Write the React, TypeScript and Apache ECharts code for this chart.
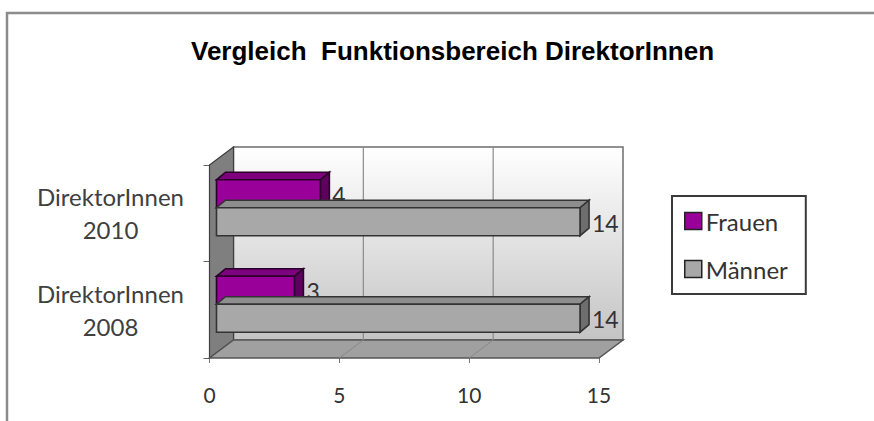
import React, { useEffect, useRef } from "react";
import * as echarts from "echarts";

const titleText = "Vergleich  Funktionsbereich DirektorInnen";
const categories = ["DirektorInnen\n2008", "DirektorInnen\n2010"];
const seriesNames = ["Frauen", "Männer"];
const frauen = [3, 4];
const maenner = [14, 14];
const xTicks = [0, 5, 10, 15];

const FONT = "Lato";
const DEPTH = [24, -18];
const BAR_OFF = [7, -5.5];
const BAR_DEPTH = [9, -7.5];

const palettes = [
  { front: "#990099", top: "#7d007d", side: "#5e005e", stroke: "#2a002a" },
  { front: "#a8a8a8", top: "#8e8e8e", side: "#6e6e6e", stroke: "#333333" },
];

function barRender(sIdx: number) {
  return (params: any, api: any) => {
    const val = api.value(0);
    const cat = api.value(1);
    const c0 = api.coord([0, cat]);
    const c1 = api.coord([val, cat]);
    const bandH = api.size([0, 1])[1];
    const h = bandH * 0.29;
    const yTop = c0[1] - h + sIdx * h + BAR_OFF[1];
    const xs = c0[0] + BAR_OFF[0];
    const xe = c1[0] + BAR_OFF[0];
    const [dx, dy] = BAR_DEPTH;
    const p = palettes[sIdx];
    const lw = 1.6;
    return {
      type: "group",
      children: [
        {
          type: "polygon",
          shape: { points: [[xs, yTop], [xe, yTop], [xe + dx, yTop + dy], [xs + dx, yTop + dy]] },
          style: { fill: p.top, stroke: p.stroke, lineWidth: lw },
        },
        {
          type: "polygon",
          shape: { points: [[xe, yTop], [xe, yTop + h], [xe + dx, yTop + h + dy], [xe + dx, yTop + dy]] },
          style: { fill: p.side, stroke: p.stroke, lineWidth: lw },
        },
        {
          type: "rect",
          shape: { x: xs, y: yTop, width: xe - xs, height: h },
          style: { fill: p.front, stroke: p.stroke, lineWidth: lw },
        },
        {
          type: "text",
          style: {
            text: String(val),
            x: xe + dx + 3,
            y: yTop + h / 2 + 1,
            verticalAlign: "middle",
            align: "left",
            fill: "#333333",
            font: `23px ${FONT}`,
          },
        },
      ],
    };
  };
}

function wallRender(params: any, api: any) {
  const bandH = api.size([0, 1])[1];
  const b = api.coord([0, 0]);
  const t = api.coord([0, categories.length - 1]);
  const bottom = b[1] + bandH / 2;
  const top = t[1] - bandH / 2;
  const x0 = b[0];
  const x15 = api.coord([xTicks[xTicks.length - 1], 0])[0];
  const [Dx, Dy] = DEPTH;
  const children: any[] = [
    {
      type: "rect",
      shape: { x: x0 + Dx, y: top + Dy, width: x15 - x0, height: bottom - top },
      style: {
        fill: new echarts.graphic.LinearGradient(0, 0, 0, 1, [
          { offset: 0, color: "#ffffff" },
          { offset: 1, color: "#c4c4c4" },
        ]),
        stroke: "#6e6e6e",
        lineWidth: 1.5,
      },
    },
    {
      type: "polygon",
      shape: { points: [[x0, top], [x0 + Dx, top + Dy], [x0 + Dx, bottom + Dy], [x0, bottom]] },
      style: { fill: "#7f7f7f", stroke: "#404040", lineWidth: 1.2 },
    },
    {
      type: "polygon",
      shape: { points: [[x0, bottom], [x15, bottom], [x15 + Dx, bottom + Dy], [x0 + Dx, bottom + Dy]] },
      style: { fill: "#a0a0a0", stroke: "#555555", lineWidth: 1.5 },
    },
  ];
  xTicks.slice(1, -1).forEach((v) => {
    const x = api.coord([v, 0])[0];
    children.push({
      type: "line",
      shape: { x1: x + Dx, y1: top + Dy, x2: x + Dx, y2: bottom + Dy },
      style: { stroke: "#8a8a8a", lineWidth: 1.2 },
    });
    children.push({
      type: "line",
      shape: { x1: x + Dx, y1: bottom + Dy, x2: x, y2: bottom },
      style: { stroke: "#888888", lineWidth: 1 },
    });
  });
  return { type: "group", children };
}

export default function App() {
  const ref = useRef<HTMLDivElement>(null);
  useEffect(() => {
    const chart = echarts.init(ref.current!, null, { renderer: "svg" });
    chart.setOption({
      animation: false,
      backgroundColor: "#ffffff",
      title: {
        text: titleText,
        left: 186,
        top: 33,
        textStyle: { fontFamily: "Liberation Sans", fontWeight: "bold", fontSize: 26, color: "#000000" },
      },
      graphic: [
        {
          type: "rect",
          shape: { x: 7, y: 13, width: 900, height: 500 },
          style: { fill: "none", stroke: "#8c8c8c", lineWidth: 2.5 },
          silent: true,
        },
      ],
      legend: {
        orient: "vertical",
        left: 672,
        top: 196,
        padding: [13, 18, 13, 12],
        itemGap: 24,
        itemWidth: 17,
        itemHeight: 17,
        borderColor: "#3a3a3a",
        borderWidth: 2,
        textStyle: { fontFamily: FONT, fontSize: 24, color: "#333333", padding: [0, 0, 0, -1] },
        data: seriesNames.map((n, i) => ({
          name: n,
          icon: "rect",
          itemStyle: { color: palettes[i].front, borderColor: "#222222", borderWidth: 1.5 },
        })),
      },
      grid: { left: 209.5, right: 275, top: 165, bottom: 63 },
      xAxis: {
        type: "value",
        min: 0,
        max: 15,
        interval: 5,
        splitLine: { show: false },
        axisLine: { show: false },
        axisTick: { show: true, length: 5, lineStyle: { color: "#777777" } },
        axisLabel: { margin: 26, fontFamily: FONT, fontSize: 21, color: "#333333" },
      },
      yAxis: {
        type: "category",
        data: categories,
        axisLine: { show: true, lineStyle: { color: "#666666", width: 1.5 } },
        axisTick: { show: true, length: 6, lineStyle: { color: "#666666" } },
        axisLabel: {
          margin: 99,
          align: "center",
          fontFamily: FONT,
          fontSize: 24,
          lineHeight: 33,
          color: "#404040",
        },
      },
      series: [
        {
          type: "custom",
          name: "walls",
          silent: true,
          z: 1,
          renderItem: wallRender,
          data: [[0, 0]],
          encode: { x: 0, y: 1 },
        },
        {
          type: "custom",
          name: seriesNames[0],
          z: 3,
          renderItem: barRender(0),
          itemStyle: { color: palettes[0].front },
          data: frauen.map((v, i) => [v, i]),
          encode: { x: 0, y: 1 },
        },
        {
          type: "custom",
          name: seriesNames[1],
          z: 3,
          renderItem: barRender(1),
          itemStyle: { color: palettes[1].front },
          data: maenner.map((v, i) => [v, i]),
          encode: { x: 0, y: 1 },
        },
      ],
    });
    return () => chart.dispose();
  }, []);
  return (
    <div
      ref={ref}
      style={{ position: "fixed", left: 0, top: 0, width: 874, height: 421 }}
    />
  );
}
